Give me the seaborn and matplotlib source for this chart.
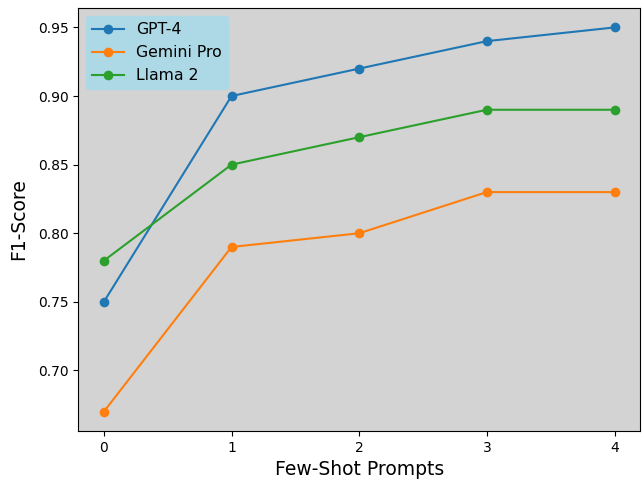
import matplotlib
matplotlib.use('Agg')
import matplotlib.pyplot as plt
import pandas as pd
import seaborn as sns

shots = [0, 1, 2, 3, 4]
gpt4 = [0.75, 0.90, 0.92, 0.94, 0.95]
gemini_pro = [0.67, 0.79, 0.80, 0.83, 0.83]
llama2 = [0.78, 0.85, 0.87, 0.89, 0.89]

df = pd.DataFrame({
    'shots': shots * 3,
    'f1': gpt4 + gemini_pro + llama2,
    'model': ['GPT-4'] * 5 + ['Gemini Pro'] * 5 + ['Llama 2'] * 5,
})

fig, ax = plt.subplots(figsize=(6.42, 4.83), dpi=100)
sns.lineplot(data=df, x='shots', y='f1', hue='model', marker='o', markersize=7,
             markeredgewidth=0, palette=['#1f77b4', '#ff7f0e', '#2ca02c'], ax=ax)
ax.set_facecolor('lightgray')
ax.set_xticks(shots)
ax.set_xlabel('Few-Shot Prompts', fontsize=13.5)
ax.set_ylabel('F1-Score', fontsize=13.5, labelpad=7)
leg = ax.legend(loc='upper left', facecolor='lightblue', framealpha=1, fontsize=11.3)
leg.get_frame().set_edgecolor('lightblue')
plt.subplots_adjust(left=0.122, right=0.997, top=0.983, bottom=0.108)
plt.savefig('out.png', dpi=100)
